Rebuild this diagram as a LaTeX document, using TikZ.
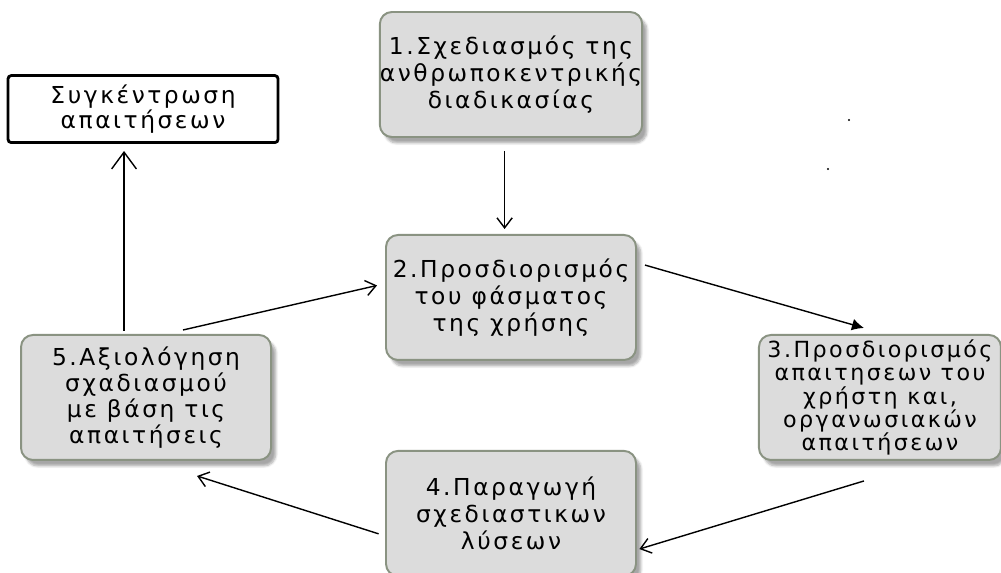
\documentclass[tikz,border=0pt]{standalone}
\usepackage{fontspec}
\usepackage{xcolor}
\usepackage{tikz}
\usetikzlibrary{arrows.meta, positioning, calc, shadows.blur}

\newfontfamily\diagfont[LetterSpace=11]{DejaVu Sans}
\definecolor{boxfill}{HTML}{DCDCDC}
\definecolor{boxedge}{HTML}{8A9382}

\begin{document}
\begin{tikzpicture}[every node/.style={align=center, font=\diagfont\fontsize{16.6}{19.2}\selectfont},
    stepbox/.style={draw=boxedge, line width=1.4pt, fill=boxfill, rounded corners=0.3cm, minimum width=6.25cm, minimum height=3.125cm, inner sep=0pt, blur shadow={shadow xshift=0.12cm, shadow yshift=-0.15cm, shadow blur steps=6, shadow opacity=35}},
    goalbox/.style={draw=black, line width=2pt, fill=white, rounded corners=0.08cm, minimum width=6.75cm, minimum height=1.675cm, inner sep=0pt},
    flow/.style={line width=1pt, -{Straight Barb[length=0.25cm, width=0.38cm]}},
    bigflow/.style={line width=1pt, -{Straight Barb[length=0.42cm, width=0.62cm]}}]
    \useasboundingbox (0,0) rectangle (25.025,-14.325);
    \node[stepbox] (B1) at (12.775,-1.8625) {1.Σχεδιασμός της\\ανθρωποκεντρικής\\διαδικασίας};
    \node[stepbox, below=2.4cm of B1] (B2) {2.Προσδιορισμός\\του φάσματος\\της χρήσης};
    \node[stepbox, below=2.225cm of B2] (B4) {4.Παραγωγή\\σχεδιαστικων\\λύσεων};
    \node[stepbox, left=2.825cm of B2, yshift=-2.5cm, font=\diagfont\fontsize{16.6}{18.5}\selectfont] (B5) {5.Αξιολόγηση\\σχαδιασμού\\με βάση τις\\απαιτήσεις};
    \node[stepbox, right=3.025cm of B2, yshift=-2.5cm, minimum width=6.05cm, font=\diagfont\fontsize{15.8}{16.4}\selectfont] (B3) {3.Προσδιορισμός\\απαιτησεων του\\χρήστη και,\\οργανωσιακών\\απαιτήσεων};
    \node[goalbox, above=4.75cm of B5, xshift=-0.075cm, font=\diagfont\fontsize{16.6}{15.6}\selectfont] (G) {Συγκέντρωση\\απαιτήσεων};
    \draw[flow] ([xshift=-0.16cm, yshift=-0.325cm]B1.south) -- ([xshift=-0.16cm, yshift=0.125cm]B2.north);
    \draw[flow] ([xshift=0.925cm, yshift=0.1cm]B5.north) -- ([xshift=-0.2cm, yshift=0.3cm]B2.west);
    \draw[line width=1pt, -{Latex[length=0.3cm, width=0.3cm]}] ([xshift=0.2cm, yshift=0.81cm]B2.east) -- ([xshift=-0.4cm, yshift=0.15cm]B3.north);
    \draw[flow] ([xshift=-0.4cm, yshift=-0.5cm]B3.south) -- ([xshift=0.06cm, yshift=-0.89cm]B4.east);
    \draw[flow] ([xshift=-0.16cm, yshift=-0.51cm]B4.west) -- ([xshift=1.275cm, yshift=-0.375cm]B5.south);
    \draw[bigflow] ([xshift=-0.55cm, yshift=0.075cm]B5.north) -- ([xshift=-0.475cm, yshift=-0.175cm]G.south);
    % stray dots
    \fill (21.225,-3) circle (0.03cm);
    \fill (20.7,-4.225) circle (0.03cm);
\end{tikzpicture}
\end{document}
